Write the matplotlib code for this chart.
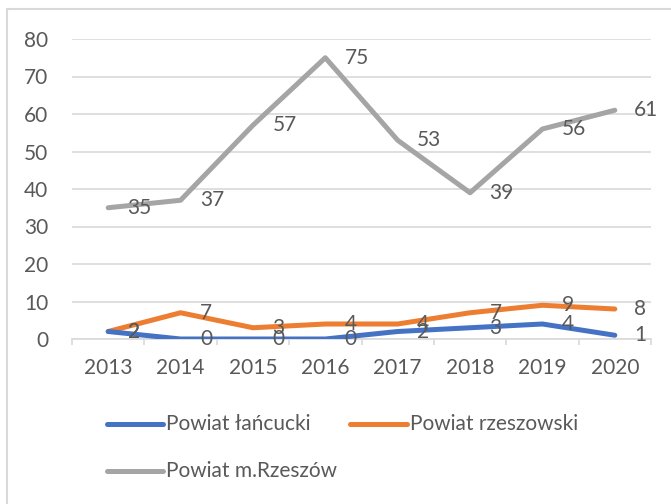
import matplotlib
matplotlib.use("Agg")
import matplotlib.pyplot as plt
from matplotlib.lines import Line2D
from matplotlib.patches import Rectangle

plt.rcParams['font.family'] = ['Lato', 'DejaVu Sans']

years = ['2013', '2014', '2015', '2016', '2017', '2018', '2019', '2020']
lancucki = [2, 0, 0, 0, 2, 3, 4, 1]
rzeszowski = [2, 7, 3, 4, 4, 7, 9, 8]
rzeszow_miasto = [35, 37, 57, 75, 53, 39, 56, 61]

names = ['Powiat łańcucki', 'Powiat rzeszowski', 'Powiat m.Rzeszów']
colors = ['#4472C4', '#ED7D31', '#A5A5A5']
text_col = '#595959'
grid_col = '#D9D9D9'
fs = 15

fig = plt.figure(figsize=(6.71, 5.04), dpi=100)
W, H = 671, 504
ax = fig.add_axes([72 / W, 1 - 339 / H, (651 - 72) / W, (339 - 39) / H])

x = list(range(len(years)))
# grey first so the small series sit on top of it
for vals, c in zip([rzeszow_miasto, rzeszowski, lancucki], colors[::-1]):
    ax.plot(x, vals, color=c, lw=3.6, solid_capstyle='round',
            solid_joinstyle='round', zorder=3)

for vals in [lancucki, rzeszowski, rzeszow_miasto]:
    for xi, v in zip(x, vals):
        ax.annotate(str(v), (xi, v), xytext=(14, 0), textcoords='offset points',
                    ha='left', va='center', fontsize=fs, color=text_col, zorder=4)

ax.set_xlim(-0.5, len(years) - 0.5)
ax.set_ylim(0, 80)
ax.set_yticks(range(0, 81, 10))
ax.set_xticks(x)
ax.set_xticklabels(years)
ax.set_xticks([i - 0.5 for i in range(len(years) + 1)], minor=True)

ax.grid(axis='y', color=grid_col, lw=1.2)
ax.set_axisbelow(True)
for s in ['top', 'right', 'left']:
    ax.spines[s].set_visible(False)
ax.spines['bottom'].set_color(grid_col)
ax.spines['bottom'].set_linewidth(1.2)

ax.tick_params(axis='y', length=0, pad=17, labelsize=fs, labelcolor=text_col)
ax.tick_params(axis='x', which='major', length=0, pad=14, labelsize=fs,
               labelcolor=text_col)
ax.tick_params(axis='x', which='minor', length=4, width=1.2, color=grid_col,
               direction='out')

# legend drawn by hand: Excel flows the entries rather than using a grid
legend_pos = [(107, 163, 424), (350, 407, 424), (107, 163, 471)]
for (x0, x1, y), name, c in zip(legend_pos, names, colors):
    fig.add_artist(Line2D([x0 / W, x1 / W], [1 - y / H, 1 - y / H], color=c,
                          lw=3.6, solid_capstyle='round'))
    fig.text((x1 + 3) / W, 1 - y / H, name, ha='left', va='center',
             fontsize=fs, color=text_col)

# chart border
fig.add_artist(Rectangle((7 / W, -0.1), 1.2, 1 - 9 / H + 0.1, fill=False,
                         edgecolor=grid_col, lw=1.5,
                         transform=fig.transFigure))

fig.savefig('out.png', dpi=100)
